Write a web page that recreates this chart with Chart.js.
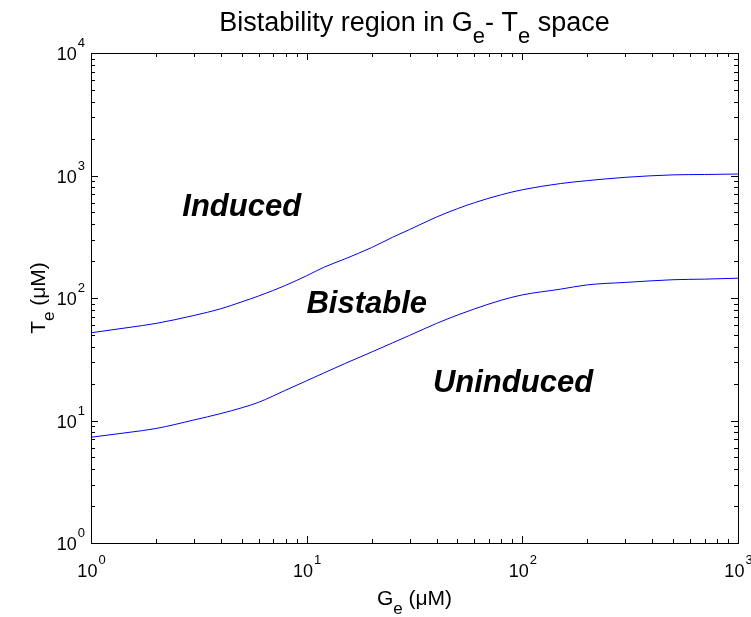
<!DOCTYPE html>
<html><head><meta charset="utf-8">
<script src="https://cdn.jsdelivr.net/npm/chart.js@4.4.0/dist/chart.umd.min.js"></script>
<style>html,body{margin:0;padding:0;background:#fff;} canvas{display:block;}</style>
</head><body>
<canvas id="c" width="751" height="617"></canvas>
<script>
// ---- data ----
const geValues      = [1, 1.5, 2, 3, 4, 5, 6, 8, 10, 12, 15, 20, 25, 30, 40, 50, 60, 80, 100, 150, 200, 300, 500, 700, 1000];
const upperBoundary = [52, 57.5, 62, 72, 81.7, 93, 104, 127, 152, 178, 208, 258, 313, 362, 458, 536, 600, 697, 765, 859, 908, 966, 1012, 1019, 1028];
const lowerBoundary = [7.3, 8.0, 8.6, 10.1, 11.4, 12.7, 14.1, 17.7, 21.1, 24.4, 29.1, 36.2, 43, 49.5, 62, 72.5, 81.5, 96, 106, 118, 128, 134, 141, 142.6, 145];
const xTickExponents = [0, 1, 2, 3];
const yTickExponents = [0, 1, 2, 3, 4];
const regionNames = ['Induced', 'Bistable', 'Uninduced'];
const regionGe    = [5.0, 19, 90.5];
const regionTe    = [548, 89, 20.2];
const titleParts  = [['Bistability region in G', false], ['e', true], ['- T', false], ['e', true], [' space', false]];
const xTitleParts = [['G', false], ['e', true], [' (\u03BCM)', false]];
const yTitleParts = [['T', false], ['e', true], [' (\u03BCM)', false]];

const FONT = '"Liberation Sans", Arial, Helvetica, sans-serif';

function drawRich(ctx, parts, cx, baseline, size) {
  const subSize = Math.round(size * 0.8);
  let total = 0;
  parts.forEach(([t, sub]) => {
    ctx.font = (sub ? subSize : size) + 'px ' + FONT;
    total += ctx.measureText(t).width;
  });
  let x = cx - total / 2;
  ctx.textAlign = 'left';
  ctx.textBaseline = 'alphabetic';
  parts.forEach(([t, sub]) => {
    ctx.font = (sub ? subSize : size) + 'px ' + FONT;
    ctx.fillText(t, x, baseline + (sub ? size * 0.45 : 0));
    x += ctx.measureText(t).width;
  });
}

function powLabel(ctx, exp, anchorX, baseY, mode) {
  ctx.font = '18px ' + FONT;
  const w10 = ctx.measureText('10').width;
  ctx.font = '13px ' + FONT;
  const we = ctx.measureText(String(exp)).width;
  let x0;
  if (mode === 'center') x0 = anchorX - (w10 + we) / 2;
  else x0 = anchorX - (w10 + we);
  ctx.textAlign = 'left';
  ctx.textBaseline = 'alphabetic';
  ctx.font = '18px ' + FONT;
  ctx.fillText('10', x0, baseY);
  ctx.font = '13px ' + FONT;
  ctx.fillText(String(exp), x0 + w10 + 1, baseY - 13);
}

const matlabAxes = {
  id: 'matlabAxes',
  afterDatasetsDraw(chart) {
    const ctx = chart.ctx;
    const a = chart.chartArea;
    const xs = chart.scales.x, ys = chart.scales.y;
    ctx.save();
    ctx.fillStyle = '#000';
    ctx.strokeStyle = '#000';
    ctx.lineWidth = 1;
    // box
    ctx.strokeRect(Math.round(a.left) + 0.5, Math.round(a.top) + 0.5, Math.round(a.right - a.left) , Math.round(a.bottom - a.top));
    // ticks
    ctx.beginPath();
    for (let d = 0; d < 3; d++) {
      for (let m = 1; m <= 10; m++) {
        const v = m * Math.pow(10, d);
        const px = Math.round(xs.getPixelForValue(v)) + 0.5;
        const len = (m === 1 || m === 10) ? 7 : 4;
        ctx.moveTo(px, a.bottom); ctx.lineTo(px, a.bottom - len);
        ctx.moveTo(px, a.top); ctx.lineTo(px, a.top + len);
      }
    }
    for (let d = 0; d < 4; d++) {
      for (let m = 1; m <= 10; m++) {
        const v = m * Math.pow(10, d);
        const py = Math.round(ys.getPixelForValue(v)) + 0.5;
        const len = (m === 1 || m === 10) ? 7 : 4;
        ctx.moveTo(a.left, py); ctx.lineTo(a.left + len, py);
        ctx.moveTo(a.right, py); ctx.lineTo(a.right - len, py);
      }
    }
    ctx.stroke();
    // tick labels
    xTickExponents.forEach(e => {
      const px = xs.getPixelForValue(Math.pow(10, e));
      powLabel(ctx, e, px, a.bottom + 34, 'center');
    });
    yTickExponents.forEach(e => {
      const py = ys.getPixelForValue(Math.pow(10, e));
      powLabel(ctx, e, a.left - 7, py + 7, 'right');
    });
    // region labels
    ctx.font = 'italic bold 31px ' + FONT;
    ctx.textAlign = 'center';
    ctx.textBaseline = 'middle';
    regionNames.forEach((n, i) => {
      ctx.fillText(n, xs.getPixelForValue(regionGe[i]), ys.getPixelForValue(regionTe[i]));
    });
    // titles
    const cx = (a.left + a.right) / 2;
    drawRich(ctx, titleParts, cx, 31, 27);
    drawRich(ctx, xTitleParts, cx, 605, 21);
    ctx.save();
    ctx.translate(45, (a.top + a.bottom) / 2);
    ctx.rotate(-Math.PI / 2);
    drawRich(ctx, yTitleParts, 0, 0, 21);
    ctx.restore();
    ctx.restore();
  }
};

const mk = arr => geValues.map((g, i) => ({ x: g, y: arr[i] }));

new Chart(document.getElementById('c').getContext('2d'), {
  type: 'line',
  data: {
    datasets: [
      { label: 'Induced / bistable boundary', data: mk(upperBoundary), borderColor: '#0000ff', borderWidth: 1, pointRadius: 0, cubicInterpolationMode: 'monotone', fill: false },
      { label: 'Bistable / uninduced boundary', data: mk(lowerBoundary), borderColor: '#0000ff', borderWidth: 1, pointRadius: 0, cubicInterpolationMode: 'monotone', fill: false }
    ]
  },
  options: {
    responsive: false,
    animation: false,
    devicePixelRatio: 1,
    layout: { padding: { left: 91, right: 13, top: 53, bottom: 74 } },
    plugins: { legend: { display: false }, tooltip: { enabled: false }, title: { display: false } },
    scales: {
      x: { type: 'logarithmic', min: 1, max: 1000, ticks: { display: false }, grid: { display: false, drawTicks: false }, border: { display: false } },
      y: { type: 'logarithmic', min: 1, max: 10000, ticks: { display: false }, grid: { display: false, drawTicks: false }, border: { display: false } }
    }
  },
  plugins: [matlabAxes]
});
</script>
</body></html>
